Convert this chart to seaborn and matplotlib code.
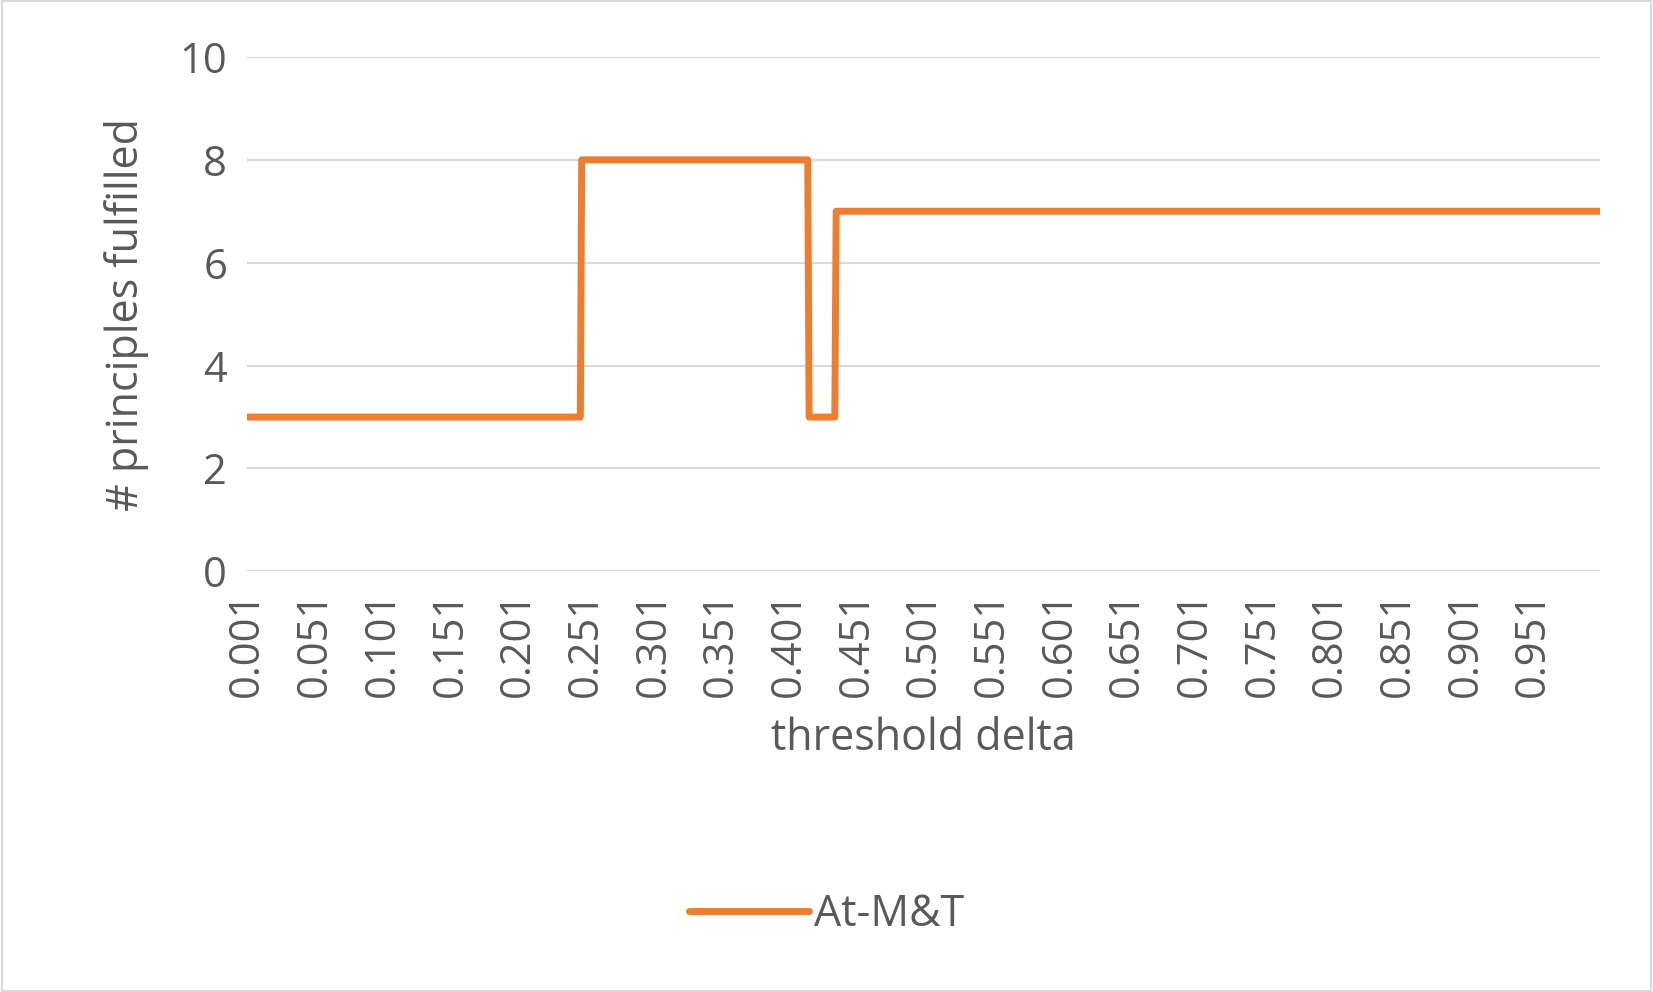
import numpy as np
import pandas as pd
import matplotlib
matplotlib.use('Agg')
import matplotlib.pyplot as plt
import seaborn as sns

# segment boundaries (first category of each segment) and values
seg_start = [0.001, 0.248, 0.416, 0.436]
seg_value = [3, 8, 3, 7]
last_delta = 1.000
tick_labels = ['0.001', '0.051', '0.101', '0.151', '0.201', '0.251', '0.301', '0.351',
               '0.401', '0.451', '0.501', '0.551', '0.601', '0.651', '0.701', '0.751',
               '0.801', '0.851', '0.901', '0.951']

delta = np.round(np.arange(1, int(round(last_delta * 1000)) + 1) / 1000, 3)
value = np.zeros_like(delta)
for s, v in zip(seg_start, seg_value):
    value[delta >= s - 1e-9] = v
df = pd.DataFrame({'threshold delta': delta, 'value': value, 'series': 'At-M&T'})

sns.set_theme(style='white')
plt.rcParams['font.family'] = ['Open Sans', 'DejaVu Sans']
grey = '#595959'

W, H = 1568, 941  # reference measured in these units
fig = plt.figure(figsize=(16.53, 9.92), dpi=100)
ax = fig.add_axes([234 / W, 1 - 542 / H, (1518 - 234) / W, (542 - 54) / H])
sns.lineplot(data=df, x='threshold delta', y='value', hue='series',
             palette=['#ED7D31'], linewidth=5, ax=ax, legend=False)

ax.set_xlim(0.0005, 1.0005)
ax.set_ylim(0, 10)
ax.set_yticks([0, 2, 4, 6, 8, 10])
ax.set_xticks([float(t) for t in tick_labels])
ax.set_xticklabels(tick_labels, rotation=90)
ax.tick_params(axis='both', colors=grey, labelsize=30, length=0, pad=14)
ax.grid(axis='y', color='#d9d9d9', linewidth=1.5)
ax.set_axisbelow(True)
for sp in ax.spines.values():
    sp.set_visible(False)
ax.set_xlabel('threshold delta', color=grey, fontsize=31, labelpad=14)
ax.set_ylabel('# principles fulfilled', color=grey, fontsize=31, labelpad=22)

# legend
fig.legend(handles=[plt.Line2D([], [], color='#ED7D31', linewidth=5)], labels=['At-M&T'],
           loc='center', bbox_to_anchor=(0.5, 1 - 868 / H), frameon=False,
           fontsize=31, labelcolor=grey, handlelength=2.8, handletextpad=0.1)

fig.patches.append(plt.Rectangle((0.001, 0.001), 0.998, 0.998, transform=fig.transFigure,
                                 fill=False, edgecolor='#d9d9d9', linewidth=1.5))
fig.savefig('out.png', dpi=100)
